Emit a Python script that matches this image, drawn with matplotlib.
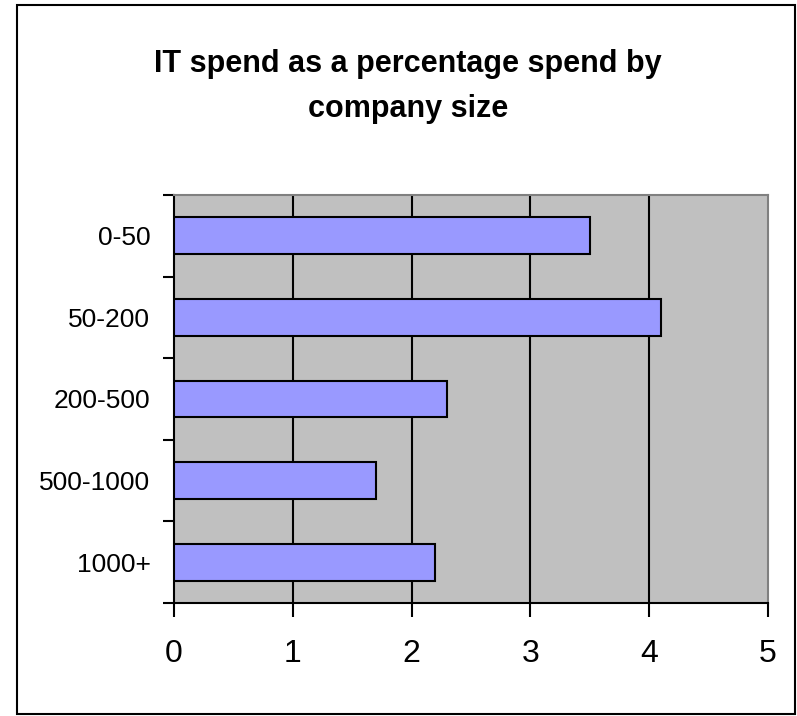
import matplotlib
matplotlib.use("Agg")
import matplotlib.pyplot as plt
from matplotlib.patches import Rectangle

categories = ["0-50", "50-200", "200-500", "500-1000", "1000+"]
values = [3.5, 4.1, 2.3, 1.7, 2.2]
x_ticks = [0, 1, 2, 3, 4, 5]
title_lines = ["IT spend as a percentage spend by", "company size"]

plt.rcParams["font.family"] = ["Liberation Sans", "DejaVu Sans"]

W, H = 797, 716
fig = plt.figure(figsize=(W / 100, H / 100), dpi=100)

# outer chart border
fig.patches.append(Rectangle((17 / W, 1 - 714 / H), (795 - 17) / W, (714 - 5) / H,
                             transform=fig.transFigure, fill=False,
                             edgecolor="black", linewidth=1.5))

ax = fig.add_axes([174 / W, 1 - 603 / H, (768 - 174) / W, (603 - 195) / H])
ax.set_facecolor("#C0C0C0")

y = list(range(len(categories)))
ax.barh(y, values, height=0.45, color="#9999FF", edgecolor="black",
        linewidth=1.5, zorder=3)

ax.set_xlim(0, 5)
ax.set_ylim(len(categories) - 0.5, -0.5)
ax.set_xticks(x_ticks)
ax.set_xticklabels([str(v) for v in x_ticks], fontsize=23)
ax.set_yticks(y)
ax.set_yticklabels(categories, fontsize=19)
ax.tick_params(axis="y", length=0, pad=17)
ax.set_yticks([i - 0.5 for i in range(len(categories) + 1)], minor=True)
ax.tick_params(axis="y", which="minor", length=8, width=1.5, direction="out")
ax.tick_params(axis="x", length=10, width=1.5, direction="out", pad=16)

for gx in x_ticks[1:-1]:
    ax.axvline(gx, color="black", linewidth=1.5, zorder=1)

for side in ("top", "right"):
    ax.spines[side].set_color("#808080")
    ax.spines[side].set_linewidth(1.5)
for side in ("left", "bottom"):
    ax.spines[side].set_color("black")
    ax.spines[side].set_linewidth(1.5)

for line, base in zip(title_lines, [72, 117]):
    fig.text(408 / W, 1 - base / H, line, ha="center", va="baseline",
             fontsize=22, fontweight="bold")

fig.savefig("out.png", dpi=100)
